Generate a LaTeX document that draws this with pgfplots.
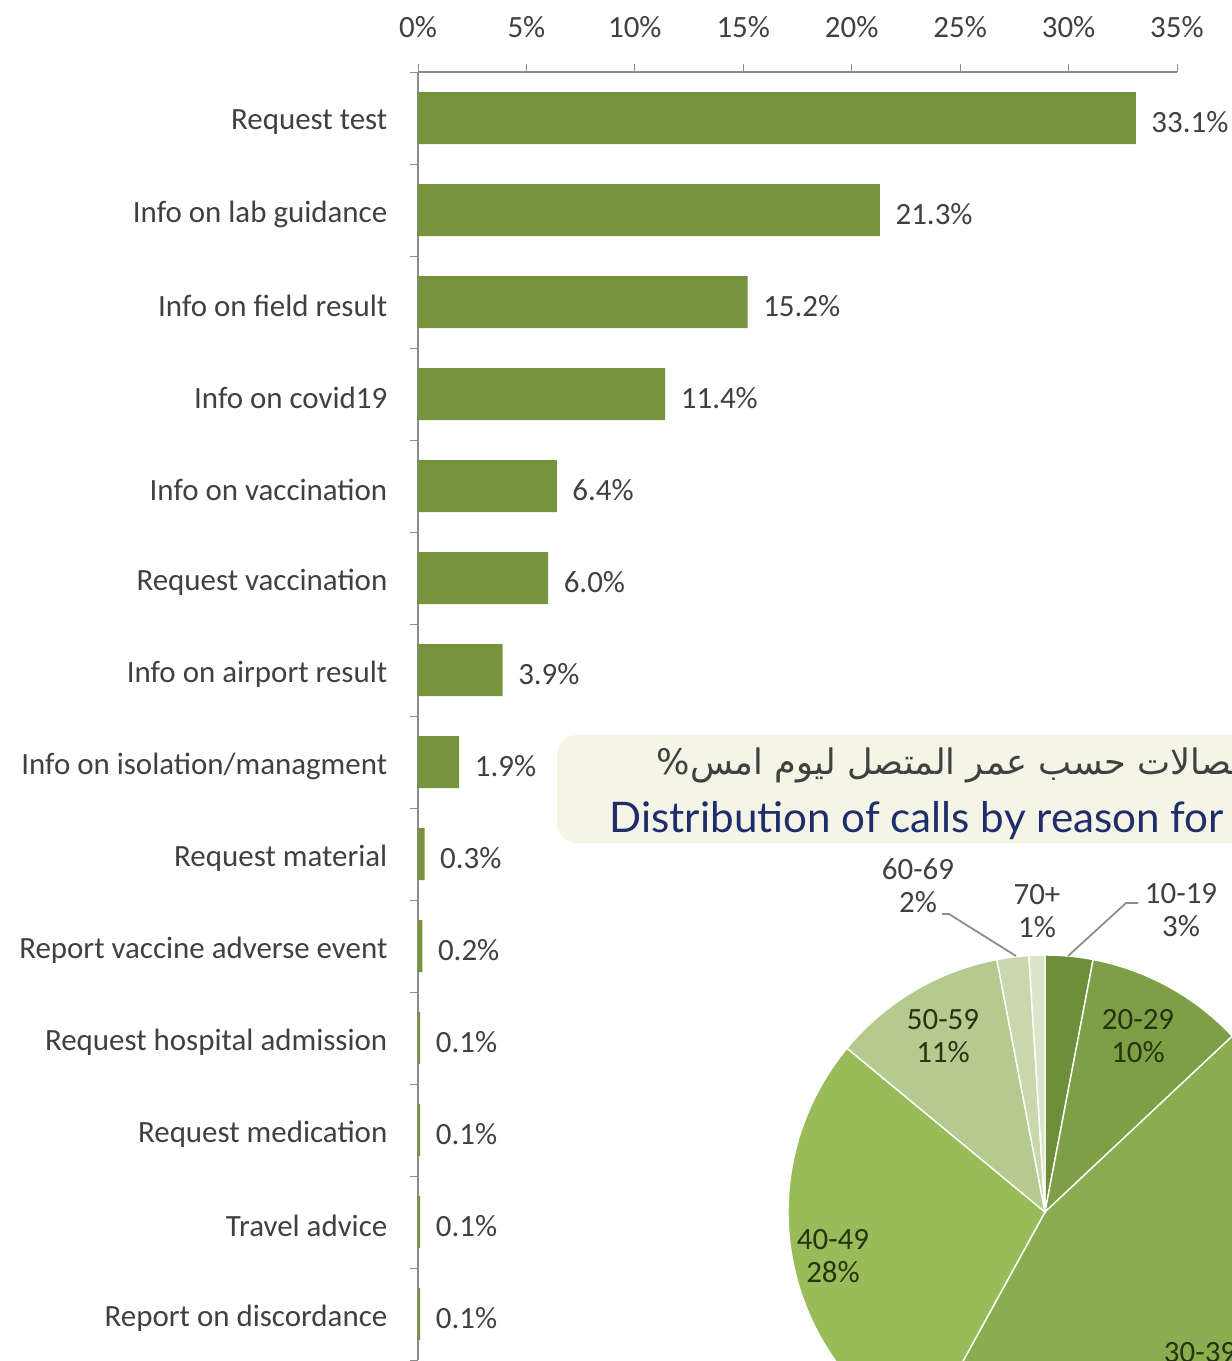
\documentclass[border=0pt]{standalone}
\usepackage{pgfplots}
\usepackage{pgfplotstable}
\pgfplotsset{compat=1.18}
\usepackage{fontspec}
\setmainfont{Carlito}
\newfontfamily\titlefont{Lato}
\newfontfamily\arabicfont[Script=Arabic]{DejaVu Sans}
\TeXXeTstate=1

\definecolor{barcol}{HTML}{77933C}
\definecolor{txtcol}{HTML}{404040}
\definecolor{boxcol}{HTML}{F4F5E6}
\definecolor{titlecol}{HTML}{1F2E6B}
\definecolor{piedark}{HTML}{263410}
\definecolor{pieA}{HTML}{6F8E3B}
\definecolor{pieB}{HTML}{7F9F47}
\definecolor{pieC}{HTML}{8CAC50}
\definecolor{pieD}{HTML}{9ABB59}
\definecolor{pieE}{HTML}{B4CA8E}
\definecolor{pieF}{HTML}{C8D7AC}
\definecolor{pieG}{HTML}{DCE5CA}

\pgfplotstableread{
reason value
{Request test} 33.1
{Info on lab guidance} 21.3
{Info on field result} 15.2
{Info on covid19} 11.4
{Info on vaccination} 6.4
{Request vaccination} 6.0
{Info on airport result} 3.9
{Info on isolation/managment} 1.9
{Request material} 0.3
{Report vaccine adverse event} 0.2
{Request hospital admission} 0.1
{Request medication} 0.1
{Travel advice} 0.1
{Report on discordance} 0.1
}\reasons

\begin{document}
\begin{tikzpicture}
\useasboundingbox (0,0) rectangle (123.2mm,-136.1mm);
\clip (0,0) rectangle (123.2mm,-136.1mm);

% title box of the pie
\begin{scope}[x=0.1mm,y=-0.1mm]
\fill[boxcol, rounded corners=2mm] (557,735) rectangle (1320,843);
\node[anchor=west, inner sep=0pt, text=txtcol, font=\arabicfont\fontsize{10}{12}\selectfont] at (656,765)
  {\beginR توزيع الاتصالات حسب عمر المتصل ليوم امس\%\endR};
\node[anchor=base west, inner sep=0pt, text=titlecol, font=\titlefont\fontsize{12}{14}\selectfont] at (609,832)
  {Distribution of calls by reason for};
\end{scope}

% bar chart
\begin{axis}[
  at={(41.8mm,-7.2mm)}, anchor=north west,
  scale only axis, width=75.9mm, height=128.8mm,
  xbar, bar width=5.2mm,
  xmin=0, xmax=35, ymin=-0.5, ymax=13.5, y dir=reverse,
  axis x line*=top, axis y line*=left,
  axis line style={black!45},
  xtick={0,5,...,35},
  xticklabel={\pgfmathprintnumber{\tick}\%},
  ytick={0,...,13},
  yticklabels from table={\reasons}{reason},
  minor ytick={-0.5,0.5,...,13.5},
  major y tick style={draw=none},
  minor y tick style={black!45},
  major x tick style={black!45},
  tick align=outside,
  major tick length=0.8mm, minor tick length=0.8mm,
  tick label style={font=\fontsize{8.8}{10}\selectfont, text=txtcol},
  /pgf/number format/assume math mode=true,
  xticklabel style={inner sep=0pt, anchor=south, yshift=2.6mm},
  yticklabel style={inner sep=0pt, anchor=east, xshift=-2.2mm, yshift=-0.4mm},
  point meta=x,
  nodes near coords={\pgfmathprintnumber[fixed,fixed zerofill,precision=1]{\pgfplotspointmeta}\%},
  nodes near coords style={anchor=west, inner sep=0pt, xshift=1.5mm, yshift=-0.4mm, text=txtcol, font=\fontsize{8.8}{10}\selectfont},
]
\addplot[fill=barcol, draw=none] table[x=value, y expr=\coordindex] {\reasons};
\end{axis}

% pie chart
\begin{axis}[
  at={(104.5mm,-121.2mm)}, anchor=origin,
  scale only axis, x=25.7mm, y=25.7mm,
  xmin=-1, xmax=1, ymin=-1, ymax=1,
  hide axis, clip=false,
]
\gdef\pieangle{90}
\foreach \v/\c in {3/pieA, 10/pieB, 45/pieC, 28/pieD, 11/pieE, 2/pieF, 1/pieG}{
  \pgfmathsetmacro\a{\pieangle}
  \pgfmathsetmacro\b{\pieangle-3.6*\v}
  \edef\temp{\noexpand\fill[\c, draw=white, line width=0.4pt]
    (axis cs:0,0) -- (axis cs:{cos(\a)},{sin(\a)}) arc[start angle=\a, end angle=\b, radius=25.7mm] -- cycle;}
  \temp
  \xdef\pieangle{\b}
}
\end{axis}

% pie labels
\begin{scope}[x=0.1mm,y=-0.1mm, every node/.style={align=center, inner sep=0pt, font=\fontsize{8.8}{9.4}\selectfont}]
\draw[black!45, line width=0.5pt] (942,914) -- (949,914) -- (1016,956);
\draw[black!45, line width=0.5pt] (1068,956) -- (1126,903) -- (1138,903);
\node[text=txtcol] at (918,886) {60-69\\2\%};
\node[text=txtcol] at (1037,911) {70+\\1\%};
\node[text=txtcol] at (1181,910) {10-19\\3\%};
\node[text=piedark] at (1138,1036) {20-29\\10\%};
\node[text=piedark] at (943,1036) {50-59\\11\%};
\node[text=piedark] at (833,1256) {40-49\\28\%};
\node[text=piedark] at (1200,1369) {30-39\\45\%};
\end{scope}
\end{tikzpicture}
\end{document}
